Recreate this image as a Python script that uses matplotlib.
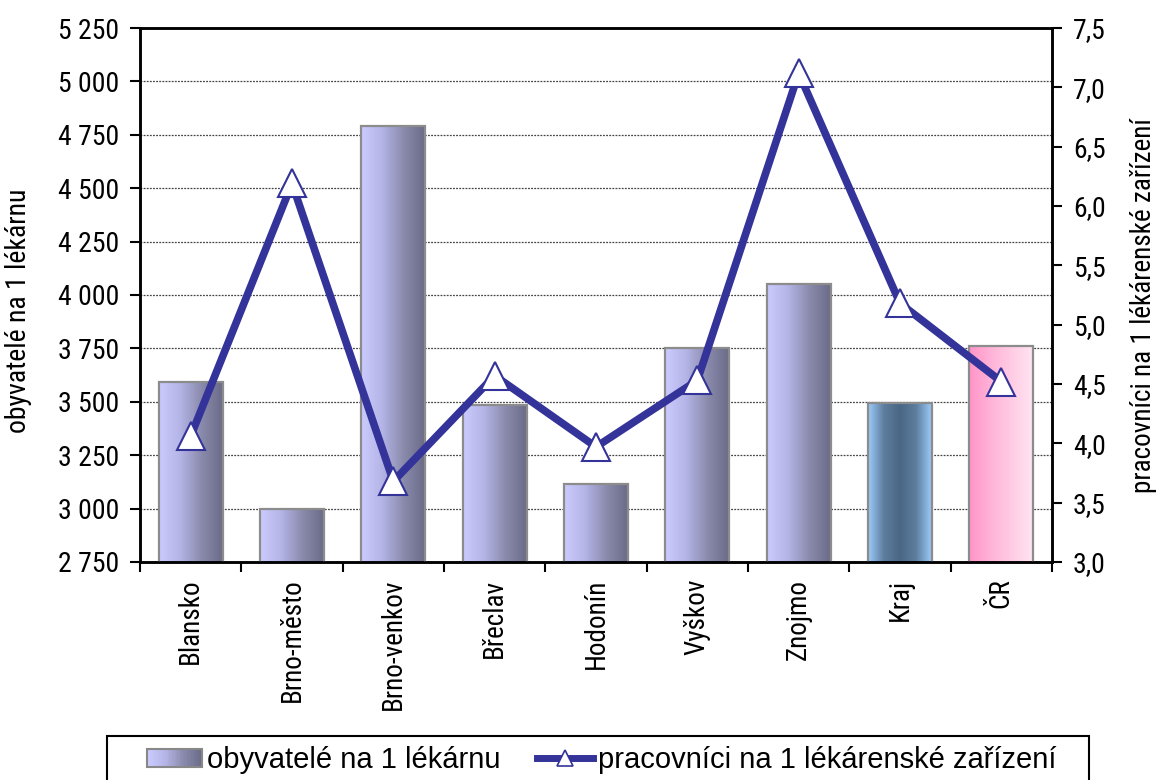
import matplotlib
matplotlib.use("Agg")
import matplotlib.pyplot as plt
import numpy as np
from matplotlib.colors import LinearSegmentedColormap
from matplotlib.legend_handler import HandlerBase
from matplotlib.lines import Line2D
from matplotlib.patches import Rectangle
from matplotlib.ticker import FuncFormatter, FixedLocator
from matplotlib import font_manager

# axis texts in the reference look like a narrow Arial; use one if present
installed = {f.name for f in font_manager.fontManager.ttflist}
narrow = [n for n in ['Liberation Sans Narrow', 'Arial Narrow', 'Roboto Condensed',
                      'Open Sans Condensed'] if n in installed]
if narrow:
    axis_family = [narrow[0], 'DejaVu Sans']
    axis_size = 20
else:
    axis_family = ['Liberation Sans', 'DejaVu Sans']
    axis_size = 19
plt.rcParams['font.family'] = ['Liberation Sans', 'DejaVu Sans']

# data
categories = ['Blansko', 'Brno-město', 'Brno-venkov', 'Břeclav', 'Hodonín',
              'Vyškov', 'Znojmo', 'Kraj', 'ČR']
inhabitants = [3594, 2997, 4791, 3485, 3115, 3753, 4050, 3496, 3761]
workers = [4.06, 6.19, 3.68, 4.57, 3.97, 4.53, 7.12, 5.18, 4.52]
bar_label = 'obyvatelé na 1 lékárnu'
line_label = 'pracovníci na 1 lékárenské zařízení'

cmap_main = LinearSegmentedColormap.from_list('main', ['#cbcbff', '#b4b4e6', '#8a8aac', '#6a6a88'])
cmap_kraj = LinearSegmentedColormap.from_list('kraj', ['#9cccfb', '#5d7d9e', '#4a6784', '#5d7d9e', '#9cccfb'])
cmap_cr = LinearSegmentedColormap.from_list('cr', ['#ff94c8', '#ffc0de', '#ffe4f1'])
bar_cmaps = [cmap_main] * 7 + [cmap_kraj, cmap_cr]


class GradientHandler(HandlerBase):
    def __init__(self, cmap, **kw):
        super().__init__(**kw)
        self.cmap = cmap

    def create_artists(self, legend, orig_handle, xdescent, ydescent,
                       width, height, fontsize, trans):
        arts = []
        n = 40
        for k in range(n):
            arts.append(Rectangle((-xdescent + width * k / n, -ydescent),
                                  width / n * 1.1, height,
                                  facecolor=self.cmap(k / (n - 1)),
                                  edgecolor='none', transform=trans))
        arts.append(Rectangle((-xdescent, -ydescent), width, height, fill=False,
                              edgecolor='#888888', lw=1.5, transform=trans))
        return arts


fig = plt.figure(figsize=(11.6, 7.8), dpi=100)
ax = fig.add_axes([0.1207, 0.2795, 0.7862, 0.6846])

ymin, ymax = 2750, 5250
x = np.arange(len(categories))
bars = ax.bar(x, inhabitants, width=0.63, facecolor='none',
              edgecolor='#8c8c8c', linewidth=1.6, zorder=3)
grad = np.linspace(0, 1, 256).reshape(1, -1)
for b, cm in zip(bars, bar_cmaps):
    x0 = b.get_x()
    ax.imshow(grad, cmap=cm, aspect='auto', interpolation='bicubic',
              extent=(x0, x0 + b.get_width(), ymin, b.get_height()),
              zorder=2)

ax.set_xlim(-0.5, len(categories) - 0.5)
ax.set_ylim(ymin, ymax)
ax.set_yticks(np.arange(ymin, ymax + 1, 250))
ax.yaxis.set_major_formatter(FuncFormatter(lambda v, p: f"{int(v):,}".replace(",", " ")))
ax.set_axisbelow(True)
ax.yaxis.grid(True, linestyle=(0, (1.5, 1)), color='#444444', lw=0.9)

# category ticks between bars, labels centred on bars
ax.xaxis.set_major_locator(FixedLocator(np.arange(-0.5, len(categories), 1)))
ax.xaxis.set_minor_locator(FixedLocator(x))
ax.set_xticklabels([], minor=False)
ax.set_xticklabels(categories, minor=True, rotation=90, va='top', ha='center')
ax.tick_params(axis='x', which='minor', length=0, pad=12)
ax.tick_params(axis='x', which='major', length=7, width=1.5, direction='out')
ax.tick_params(axis='y', length=7, width=1.5, direction='out', pad=8)
for s in ax.spines.values():
    s.set_linewidth(1.8)
ax.set_ylabel(bar_label, fontsize=axis_size, family=axis_family)
ax.yaxis.set_label_coords(-0.118, 0.47)

ax2 = ax.twinx()
ax2.plot(x, workers, color='#333399', lw=5.5, marker='^', ms=20,
         mfc='white', mec='#333399', mew=1.5, zorder=4)
ax2.set_ylim(3.0, 7.5)
ax2.set_yticks(np.arange(3.0, 7.51, 0.5))
ax2.yaxis.set_major_formatter(FuncFormatter(lambda v, p: f"{v:.1f}".replace(".", ",")))
ax2.tick_params(axis='y', length=7, width=1.5, direction='out', pad=8)
for s in ax2.spines.values():
    s.set_linewidth(1.8)
ax2.set_ylabel(line_label, fontsize=axis_size - 0.5, family=axis_family)
ax2.yaxis.set_label_coords(1.086, 0.48)

for lab in (ax.get_yticklabels() + ax2.get_yticklabels()):
    lab.set_family(axis_family)
    lab.set_fontsize(axis_size)
for lab in ax.get_xticklabels(minor=True):
    lab.set_family(axis_family)
    lab.set_fontsize(axis_size - 0.5)

# legend
bar_proxy = Rectangle((0, 0), 1, 1)
line_proxy = Line2D([], [], color='#333399', lw=5, marker='^', ms=11,
                    mfc='white', mec='#333399', mew=1.2)
fig.legend([bar_proxy, line_proxy], [bar_label, line_label],
           handler_map={bar_proxy: GradientHandler(cmap_main)},
           loc='center', bbox_to_anchor=(0.5185, 0.0256), ncol=2,
           frameon=False, fontsize=21, borderpad=0, borderaxespad=0,
           handlelength=1.9, handleheight=0.55, handletextpad=0.17,
           columnspacing=1.25)
fig.patches.append(Rectangle((0.092, -0.05), 0.8466, 0.1064, fill=False,
                             edgecolor='black', lw=1.5,
                             transform=fig.transFigure, figure=fig))

fig.savefig('out.png', dpi=100)
